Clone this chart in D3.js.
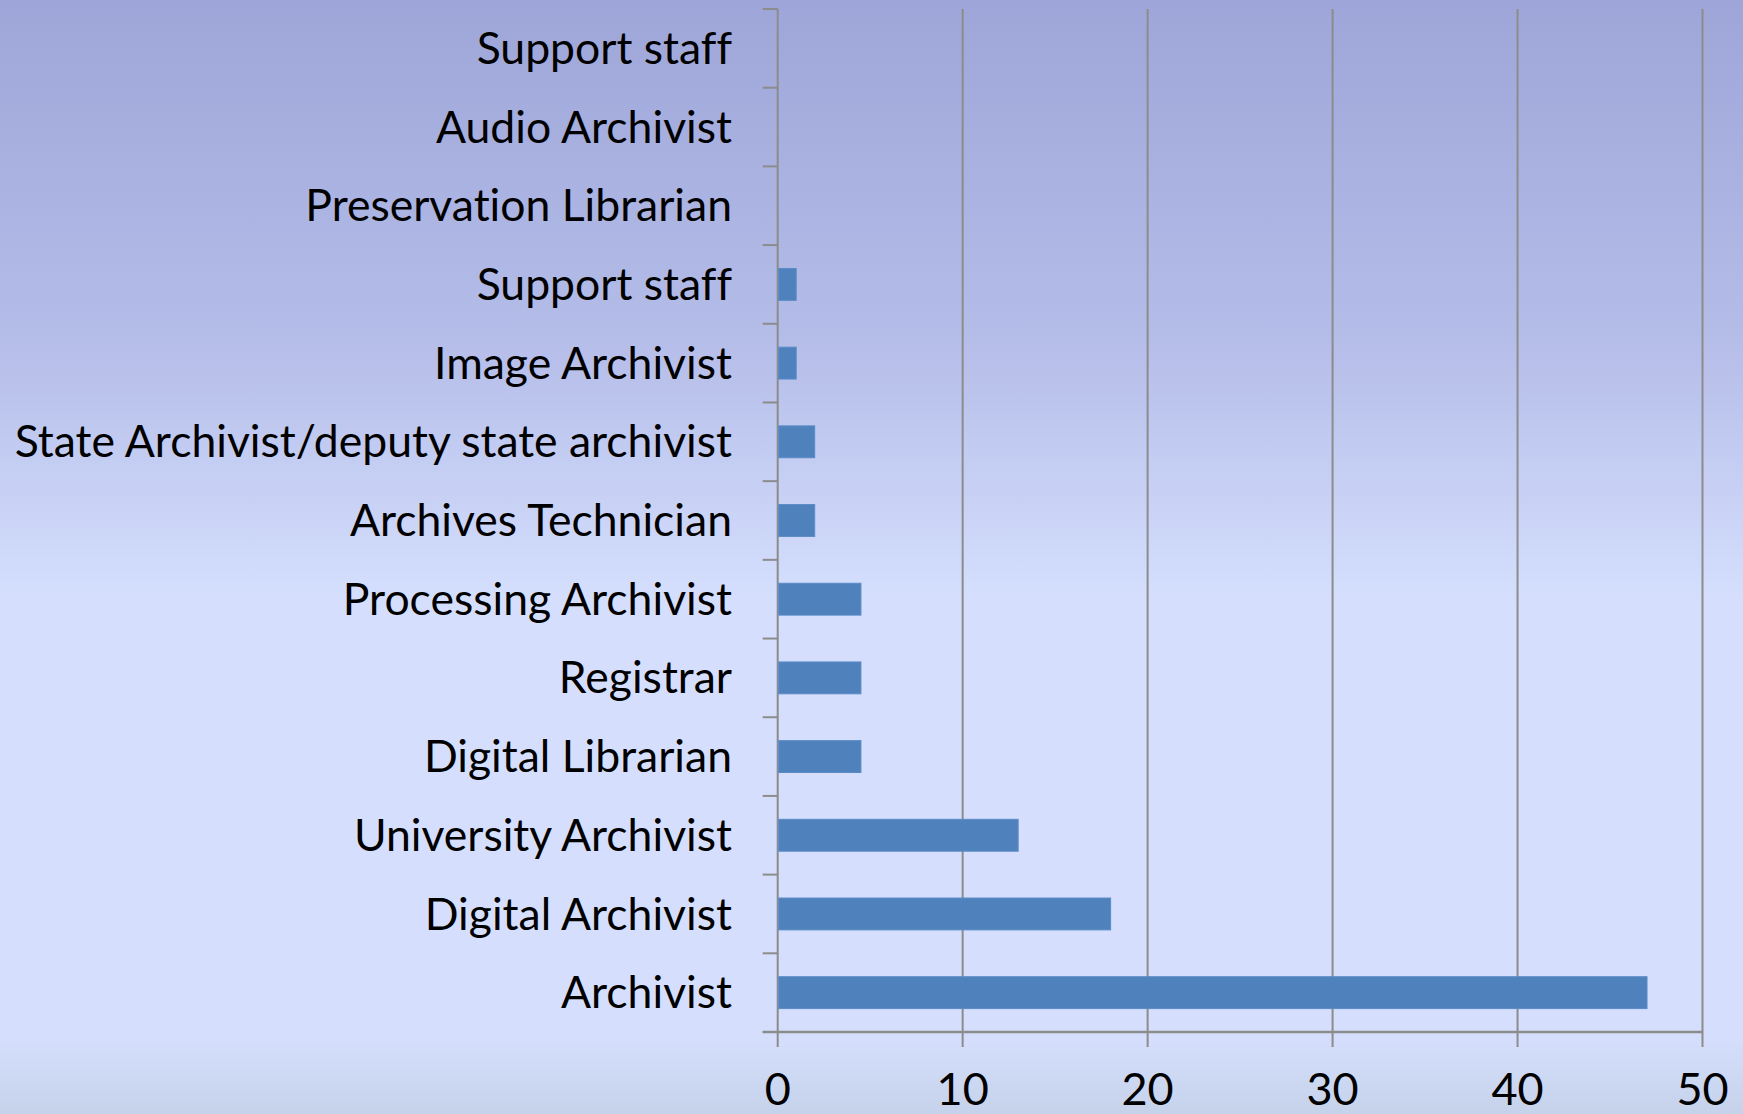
<!DOCTYPE html>
<html><head><meta charset="utf-8">
<script src="https://cdn.jsdelivr.net/npm/d3@7"></script>
<style>html,body{margin:0;padding:0;overflow:hidden;}svg{display:block;}text{font-variant-ligatures:none;font-feature-settings:"liga" 0,"clig" 0;}</style>
</head><body>
<script>
// Data (bottom to top)
const categories = ["Archivist","Digital Archivist","University Archivist","Digital Librarian","Registrar","Processing Archivist","Archives Technician","State Archivist/deputy state archivist","Image Archivist","Support staff","Preservation Librarian","Audio Archivist","Support staff "];
const values = [47,18,13,4.5,4.5,4.5,2,2,1,1,0,0,0];
const xTicks = [0,10,20,30,40,50];

const W = 1743, H = 1114;
const svg = d3.select("body").append("svg").attr("width", W).attr("height", H);
const defs = svg.append("defs");
const g = defs.append("linearGradient").attr("id","bg").attr("x1",0).attr("y1",0).attr("x2",0).attr("y2",1);
[[0,"#9EA6D9"],[0.3,"#B4BCE8"],[0.54,"#D5DFFD"],[0.93,"#D5DFFD"],[1,"#C6D2EA"]].forEach(([o,c])=>g.append("stop").attr("offset",o).attr("stop-color",c));
svg.append("rect").attr("width",W).attr("height",H).attr("fill","url(#bg)");

const x0 = 777.7, x1 = 1702.5, yTop = 9, yBot = 1032;
const x = d3.scaleLinear().domain([0,50]).range([x0,x1]);
const y = d3.scaleBand().domain(categories.map((c,i)=>i)).range([yBot,yTop]).padding(0);
const bw = y.bandwidth();
const font = "Lato, 'Open Sans', sans-serif";
const grid = "#8C8C8C";

// gridlines
svg.append("g").selectAll("line").data(xTicks).join("line")
  .attr("x1",d=>x(d)).attr("x2",d=>x(d)).attr("y1",yTop).attr("y2",yBot+15)
  .attr("stroke",grid).attr("stroke-width",2);
// x axis line
svg.append("line").attr("x1",x0-15).attr("x2",x1).attr("y1",yBot).attr("y2",yBot).attr("stroke",grid).attr("stroke-width",2.5);
// category ticks
const bounds = d3.range(categories.length+1).map(i=> yBot - i*bw);
svg.append("g").selectAll("line").data(bounds).join("line")
  .attr("x1",x0-15).attr("x2",x0).attr("y1",d=>d).attr("y2",d=>d)
  .attr("stroke",grid).attr("stroke-width",2);

// bars
const bh = bw*0.405;
svg.append("g").selectAll("rect").data(values.map((v,i)=>({v,i}))).join("rect")
  .attr("x",x0+1).attr("y",d=>y(d.i)+bw/2-bh/2)
  .attr("width",d=>Math.max(0,x(d.v)-x0-1)).attr("height",bh)
  .attr("fill","#4F81BD").attr("stroke","#5B8BC6").attr("stroke-width",d=>d.v>0?1:0);

// category labels
svg.append("g").selectAll("text").data(categories).join("text")
  .attr("x",732).attr("y",(d,i)=>y(i)+bw/2).attr("dy","0.35em")
  .attr("text-anchor","end").attr("font-family",font).attr("font-size",44.5)
  .attr("fill","#000").text(d=>d.trim());

// x tick labels
svg.append("g").selectAll("text").data(xTicks).join("text")
  .attr("x",d=>x(d)).attr("y",1105).attr("text-anchor","middle")
  .attr("font-family",font).attr("font-size",45).attr("fill","#000").text(d=>d);
</script>
</body></html>
